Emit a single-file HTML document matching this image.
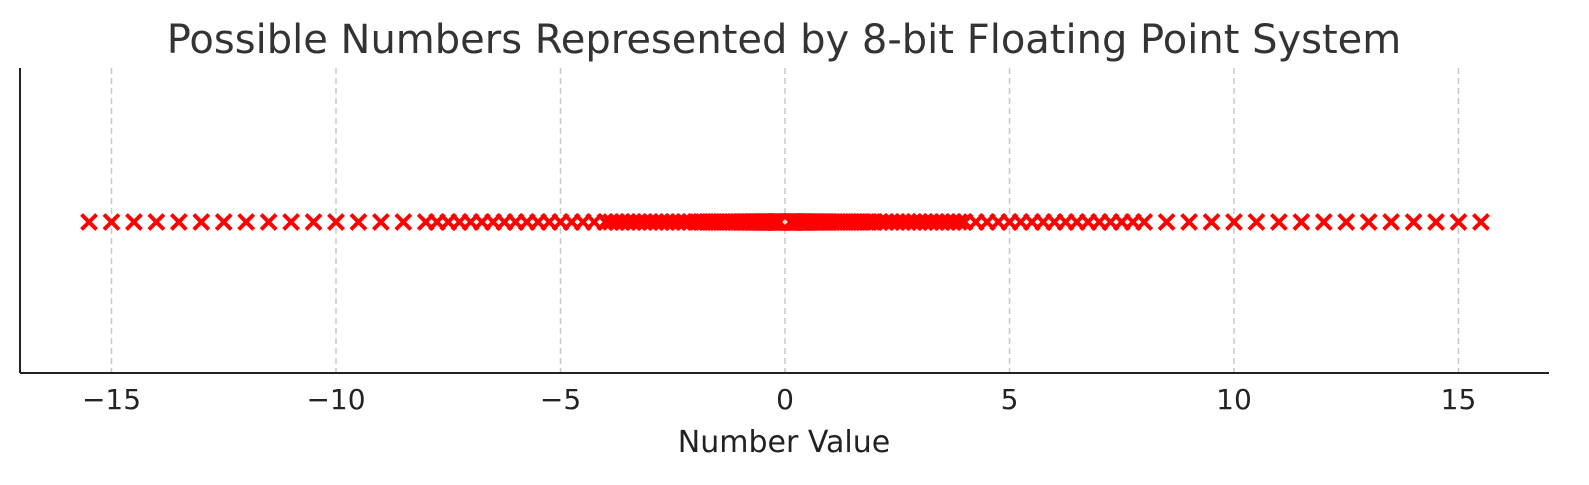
<!DOCTYPE html>
<html><head><meta charset="utf-8"><style>
html,body{margin:0;padding:0;background:#fff;}
svg{display:block;font-family:"DejaVu Sans","Liberation Sans",sans-serif;}
</style></head><body>
<svg id="chart" width="1589" height="485" viewBox="0 0 1589 485">
<text x="784" y="53" text-anchor="middle" font-size="40" fill="#333">Possible Numbers Represented by 8-bit Floating Point System</text>
<g id="grid"></g>
<g id="marks"></g>
<line x1="20" y1="68" x2="20" y2="373" stroke="#222" stroke-width="2"/>
<line x1="20" y1="373" x2="1549" y2="373" stroke="#222" stroke-width="2"/>
<g id="ticks"></g>
<text x="784" y="452" text-anchor="middle" font-size="30" fill="#222">Number Value</text>
</svg>
<script>
const tickValues = [-15,-10,-5,0,5,10,15];
const tickLabels = ["\u221215","\u221210","\u22125","0","5","10","15"];
const positiveValues = [0.125,0.1328125,0.140625,0.1484375,0.15625,0.1640625,0.171875,0.1796875,0.1875,0.1953125,0.203125,0.2109375,0.21875,0.2265625,0.234375,0.2421875,
0.25,0.265625,0.28125,0.296875,0.3125,0.328125,0.34375,0.359375,0.375,0.390625,0.40625,0.421875,0.4375,0.453125,0.46875,0.484375,
0.5,0.53125,0.5625,0.59375,0.625,0.65625,0.6875,0.71875,0.75,0.78125,0.8125,0.84375,0.875,0.90625,0.9375,0.96875,
1,1.0625,1.125,1.1875,1.25,1.3125,1.375,1.4375,1.5,1.5625,1.625,1.6875,1.75,1.8125,1.875,1.9375,
2,2.125,2.25,2.375,2.5,2.625,2.75,2.875,3,3.125,3.25,3.375,3.5,3.625,3.75,3.875,
4,4.25,4.5,4.75,5,5.25,5.5,5.75,6,6.25,6.5,6.75,7,7.25,7.5,7.75,
8,8.5,9,9.5,10,10.5,11,11.5,12,12.5,13,13.5,14,14.5,15,15.5];
const negativeValues = [-0.125,-0.1328125,-0.140625,-0.1484375,-0.15625,-0.1640625,-0.171875,-0.1796875,-0.1875,-0.1953125,-0.203125,-0.2109375,-0.21875,-0.2265625,-0.234375,-0.2421875,
-0.25,-0.265625,-0.28125,-0.296875,-0.3125,-0.328125,-0.34375,-0.359375,-0.375,-0.390625,-0.40625,-0.421875,-0.4375,-0.453125,-0.46875,-0.484375,
-0.5,-0.53125,-0.5625,-0.59375,-0.625,-0.65625,-0.6875,-0.71875,-0.75,-0.78125,-0.8125,-0.84375,-0.875,-0.90625,-0.9375,-0.96875,
-1,-1.0625,-1.125,-1.1875,-1.25,-1.3125,-1.375,-1.4375,-1.5,-1.5625,-1.625,-1.6875,-1.75,-1.8125,-1.875,-1.9375,
-2,-2.125,-2.25,-2.375,-2.5,-2.625,-2.75,-2.875,-3,-3.125,-3.25,-3.375,-3.5,-3.625,-3.75,-3.875,
-4,-4.25,-4.5,-4.75,-5,-5.25,-5.5,-5.75,-6,-6.25,-6.5,-6.75,-7,-7.25,-7.5,-7.75,
-8,-8.5,-9,-9.5,-10,-10.5,-11,-11.5,-12,-12.5,-13,-13.5,-14,-14.5,-15,-15.5];

const NS = "http://www.w3.org/2000/svg";
function xScale(v){ return 785 + v * 44.9; }
const yMark = 222;

const grid = document.getElementById('grid');
const ticks = document.getElementById('ticks');
tickValues.forEach((t,i)=>{
  const x = xScale(t);
  const g = document.createElementNS(NS,'line');
  
  
  g.setAttribute('x1',x);g.setAttribute('x2',x);g.setAttribute('y1',68);g.setAttribute('y2',373);
  g.setAttribute('stroke','#c8c8c8');g.setAttribute('stroke-width','1.5');g.setAttribute('stroke-dasharray','6,4');
  grid.appendChild(g);
  const tl = document.createElementNS(NS,'text');
  
  
  tl.setAttribute('x',x);tl.setAttribute('y',409);tl.setAttribute('text-anchor','middle');
  tl.setAttribute('font-size','28');tl.setAttribute('fill','#222');
  tl.textContent = tickLabels[i];
  ticks.appendChild(tl);
});

const marks = document.getElementById('marks');
function drawMark(v){
  const x = xScale(v), s = 7.5;
  const p = document.createElementNS(NS,'path');
  
  
  p.setAttribute('d',`M${x-s},${yMark-s}L${x+s},${yMark+s}M${x-s},${yMark+s}L${x+s},${yMark-s}`);
  p.setAttribute('stroke','#ff0000');p.setAttribute('stroke-width','4');
  marks.appendChild(p);
}
positiveValues.forEach(drawMark);
negativeValues.forEach(drawMark);
</script>
</body></html>
